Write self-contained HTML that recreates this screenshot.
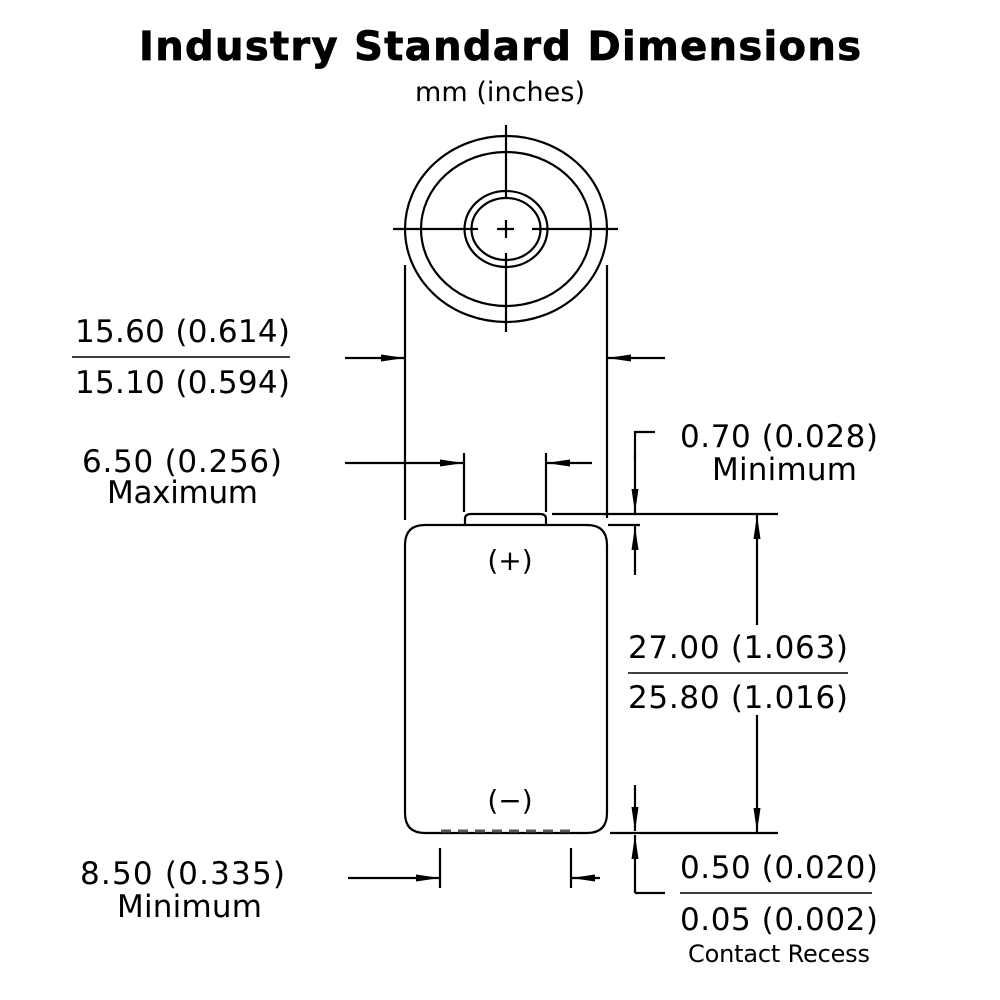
<!DOCTYPE html>
<html><head><style>body{margin:0;background:#fff}svg{display:block}text{font-family:"DejaVu Sans","Liberation Sans",sans-serif;fill:#000}</style></head>
<body>
<svg width="1000" height="1000" viewBox="0 0 1000 1000" xmlns="http://www.w3.org/2000/svg">
<defs>
<marker id="a" viewBox="0 0 24 10" refX="24" refY="5" markerWidth="24" markerHeight="10" markerUnits="userSpaceOnUse" orient="auto"><path d="M0,1.5 L24,5 L0,8.5 Z" fill="#000"/></marker>
</defs>
<text x="500" y="60" text-anchor="middle" font-size="40" font-weight="bold" textLength="722" stroke="#000" stroke-width="0.8">Industry Standard Dimensions</text>
<text x="500" y="101" text-anchor="middle" font-size="27" textLength="170">mm (inches)</text>
<g fill="none" stroke="#000" stroke-width="2.2">
<ellipse cx="506" cy="229" rx="101" ry="93"/>
<ellipse cx="506" cy="229" rx="85" ry="77"/>
<ellipse cx="506" cy="229" rx="41.5" ry="38"/>
<ellipse cx="506" cy="229" rx="34.5" ry="31"/>
<path d="M393 229H478M497 229H514M532 229H618M506 125V198M506 220V238M506 253V332"/>
<path d="M405 265V520M607 265V518M464 453V512M546 453V512"/>
<path d="M425 525H587Q607 525 607 545V813Q607 833 587 833H425Q405 833 405 813V545Q405 525 425 525Z"/>
<path d="M465 525V519Q465 514 471 514H540Q546 514 546 519V525"/>
<path d="M552 514H778M608 525H640M610 833H778"/>
<path d="M440 848V888M571 848V888"/>
<path d="M72 357H290M628 673H848M680 893H872" stroke-width="1.5"/>
<path d="M655 432H635V460"/>
<path d="M635 893H665"/>
</g>
<path d="M441 831H572" stroke="#555" stroke-width="3" stroke-dasharray="10 7" fill="none"/>
<g fill="none" stroke="#000" stroke-width="2.2" marker-end="url(#a)">
<path d="M345 358H405"/><path d="M665 358H607"/>
<path d="M345 463H464"/><path d="M592 463H546"/>
<path d="M635 455V513"/><path d="M635 575V526"/>
<path d="M757 625V515"/><path d="M757 715V832"/>
<path d="M635 785V831"/><path d="M635 893V835"/>
<path d="M348 878H440"/><path d="M600 878H571"/>
</g>
<g font-size="31">
<text x="75" y="342" textLength="215">15.60 (0.614)</text>
<text x="75" y="393" textLength="215">15.10 (0.594)</text>
<text x="82" y="472" textLength="200">6.50 (0.256)</text>
<text x="107" y="503" textLength="151">Maximum</text>
<text x="680" y="447" textLength="198">0.70 (0.028)</text>
<text x="712" y="480" textLength="145">Minimum</text>
<text x="628" y="658" textLength="220">27.00 (1.063)</text>
<text x="628" y="708" textLength="220">25.80 (1.016)</text>
<text x="80" y="884" textLength="205">8.50 (0.335)</text>
<text x="117" y="917" textLength="145">Minimum</text>
<text x="680" y="878" textLength="198">0.50 (0.020)</text>
<text x="680" y="930" textLength="198">0.05 (0.002)</text>
<text x="510" y="570" text-anchor="middle" font-size="28">(+)</text>
<text x="510" y="810" text-anchor="middle" font-size="28">(−)</text>
</g>
<text x="688" y="962" font-size="24" textLength="182">Contact Recess</text>
</svg>
</body></html>
